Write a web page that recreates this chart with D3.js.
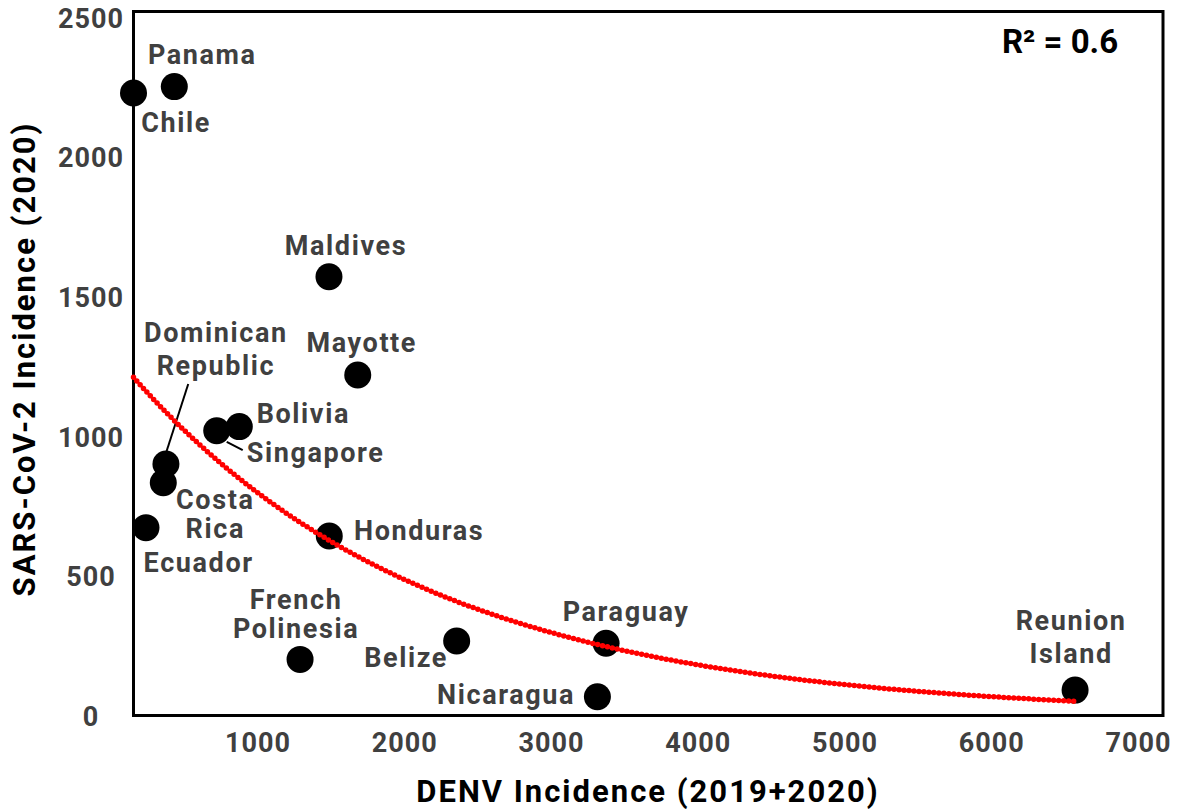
<!DOCTYPE html>
<html>
<head>
<meta charset="utf-8">
<script src="https://cdnjs.cloudflare.com/ajax/libs/d3/7.8.5/d3.min.js"></script>
<style>
  html, body { margin: 0; padding: 0; background: #fff; }
  svg { display: block; font-family: Roboto, "Noto Sans", sans-serif; }
</style>
</head>
<body>
<svg id="chart" width="1177" height="809"></svg>
<script>
// ---- data ----
const countries = [
  "Chile", "Panama", "Maldives", "Mayotte", "Bolivia", "Singapore",
  "Dominican Republic", "Costa Rica", "Ecuador", "Honduras",
  "French Polinesia", "Belize", "Paraguay", "Nicaragua", "Reunion Island"
];
const denvIncidence  = [155, 433, 1487, 1683, 876, 722, 376, 358, 240, 1489, 1290, 2357, 3375, 3316, 6571];
const covidIncidence = [2230, 2253, 1572, 1220, 1035, 1020, 901, 834, 673, 643, 201, 267, 259, 67, 91];
const xTickValues = [1000, 2000, 3000, 4000, 5000, 6000, 7000];
const yTickValues = [0, 500, 1000, 1500, 2000, 2500];
const r2Label = "R² = 0.6";

// ---- label placement (pixel offsets from each point) ----
const labelLayout = {
  "Chile":              { dx: 42.5, dy: 38.7,   anchor: "middle" },
  "Panama":             { dx: 28,   dy: -22.7,  anchor: "middle" },
  "Maldives":           { dx: 17,   dy: -21.7,  anchor: "middle" },
  "Mayotte":            { dx: 4,    dy: -22.5,  anchor: "middle" },
  "Bolivia":            { dx: 17.4, dy: -3.4,   anchor: "start" },
  "Singapore":          { dx: 30,   dy: 31,     anchor: "start", leader: [[10, 11], [26, 19.3]] },
  "Dominican Republic": { dx: 50,   dy: -122.3, anchor: "middle", lh: 33.3, leader: [[0, -10.7], [22.3, -80]] },
  "Costa Rica":         { dx: 52,   dy: 26.6,   anchor: "middle", lh: 29 },
  "Ecuador":            { dx: 52.7, dy: 44,     anchor: "middle" },
  "Honduras":           { dx: 24.7, dy: 4,      anchor: "start" },
  "French Polinesia":   { dx: -4,   dy: -50.5,  anchor: "middle", lh: 29.5 },
  "Belize":             { dx: -8.7, dy: 26,     anchor: "end" },
  "Paraguay":           { dx: 20,   dy: -22.6,  anchor: "middle" },
  "Nicaragua":          { dx: -22.3, dy: 7.3,   anchor: "end" },
  "Reunion Island":     { dx: -4,   dy: -60,    anchor: "middle", lh: 32.7 }
};

const points = countries.map((name, i) => ({ name, x: denvIncidence[i], y: covidIncidence[i] }));

// ---- layout ----
const svg = d3.select("#chart");
const plot = { left: 133.5, right: 1163, top: 11.5, bottom: 715.5 };

const x = d3.scaleLinear().domain([155, 7170]).range([plot.left, plot.right]);
const y = d3.scaleLinear().domain([0, 2522]).range([plot.bottom, plot.top]);

const labelColor = "#404040";
const labelFont = { size: "27px", spacing: "1.6px" };

// tick labels (no tick marks, no domain line)
const xAxis = svg.append("g")
  .attr("transform", `translate(0,${plot.bottom})`)
  .call(d3.axisBottom(x).tickValues(xTickValues).tickSize(0).tickPadding(0).tickFormat(d3.format("d")));
xAxis.select(".domain").remove();
xAxis.selectAll("text")
  .attr("y", 36.5).attr("dy", 0)
  .attr("fill", labelColor)
  .style("font-size", "27px").style("font-weight", 700).style("letter-spacing", "1px")
  .style("font-family", "Roboto, sans-serif");

const yAxis = svg.append("g")
  .attr("transform", `translate(${plot.left},0)`)
  .call(d3.axisLeft(y).tickValues(yTickValues).tickSize(0).tickFormat(d3.format("d")));
yAxis.select(".domain").remove();
yAxis.selectAll("text")
  .attr("x", -42.5).attr("dy", "0.36em")
  .attr("text-anchor", "middle")
  .attr("fill", labelColor)
  .style("font-size", "27px").style("font-weight", 700).style("letter-spacing", "1px")
  .style("font-family", "Roboto, sans-serif");

// frame
svg.append("rect")
  .attr("x", plot.left).attr("y", plot.top)
  .attr("width", plot.right - plot.left).attr("height", plot.bottom - plot.top)
  .attr("fill", "none").attr("stroke", "#000").attr("stroke-width", 3);

// leader lines
svg.append("g").selectAll("line")
  .data(points.filter(p => labelLayout[p.name].leader))
  .join("line")
  .attr("x1", p => x(p.x) + labelLayout[p.name].leader[0][0])
  .attr("y1", p => y(p.y) + labelLayout[p.name].leader[0][1])
  .attr("x2", p => x(p.x) + labelLayout[p.name].leader[1][0])
  .attr("y2", p => y(p.y) + labelLayout[p.name].leader[1][1])
  .attr("stroke", "#000").attr("stroke-width", 2);

// points
svg.append("g").selectAll("circle")
  .data(points)
  .join("circle")
  .attr("cx", p => x(p.x))
  .attr("cy", p => y(p.y))
  .attr("r", 13.5)
  .attr("fill", "#000");

// exponential trend line: ln(y) = a + b*x (least squares)
const lx = points.map(p => p.x), ly = points.map(p => Math.log(p.y));
const mx = d3.mean(lx), my = d3.mean(ly);
const sxy = d3.sum(lx, (v, i) => (v - mx) * (ly[i] - my));
const sxx = d3.sum(lx, v => (v - mx) ** 2);
const b = sxy / sxx, a = my - b * mx;
const [xMin, xMax] = d3.extent(lx);
const trend = d3.range(0, 401).map(i => {
  const xv = xMin + (xMax - xMin) * i / 400;
  return [xv, Math.exp(a + b * xv)];
});
svg.append("path")
  .datum(trend)
  .attr("d", d3.line().x(d => x(d[0])).y(d => y(d[1])))
  .attr("fill", "none")
  .attr("stroke", "#f00")
  .attr("stroke-width", 5.5)
  .attr("stroke-linecap", "round")
  .attr("stroke-dasharray", "0 5");

// point labels (one text element per line)
const labels = svg.append("g")
  .style("font-size", labelFont.size).style("font-weight", 700).style("letter-spacing", labelFont.spacing)
  .attr("fill", labelColor);
points.forEach(p => {
  const L = labelLayout[p.name];
  p.name.split(" ").forEach((line, i) => {
    labels.append("text")
      .attr("text-anchor", L.anchor)
      .attr("x", x(p.x) + L.dx)
      .attr("y", y(p.y) + L.dy + i * (L.lh || 0))
      .text(line);
  });
});

// R² annotation
svg.append("text")
  .attr("x", 1060).attr("y", 53)
  .attr("text-anchor", "middle")
  .style("font-size", "33px").style("font-weight", 700)
  .attr("fill", "#000")
  .text(r2Label);

// axis titles
svg.append("text")
  .attr("x", 648).attr("y", 801.5)
  .attr("text-anchor", "middle")
  .style("font-size", "31px").style("font-weight", 700).style("letter-spacing", "2px")
  .attr("fill", "#000")
  .text("DENV Incidence (2019+2020)");

svg.append("text")
  .attr("transform", "translate(35,359) rotate(-90)")
  .attr("text-anchor", "middle")
  .style("font-size", "31px").style("font-weight", 700).style("letter-spacing", "2px")
  .attr("fill", "#000")
  .text("SARS-CoV-2 Incidence (2020)");
</script>
</body>
</html>
